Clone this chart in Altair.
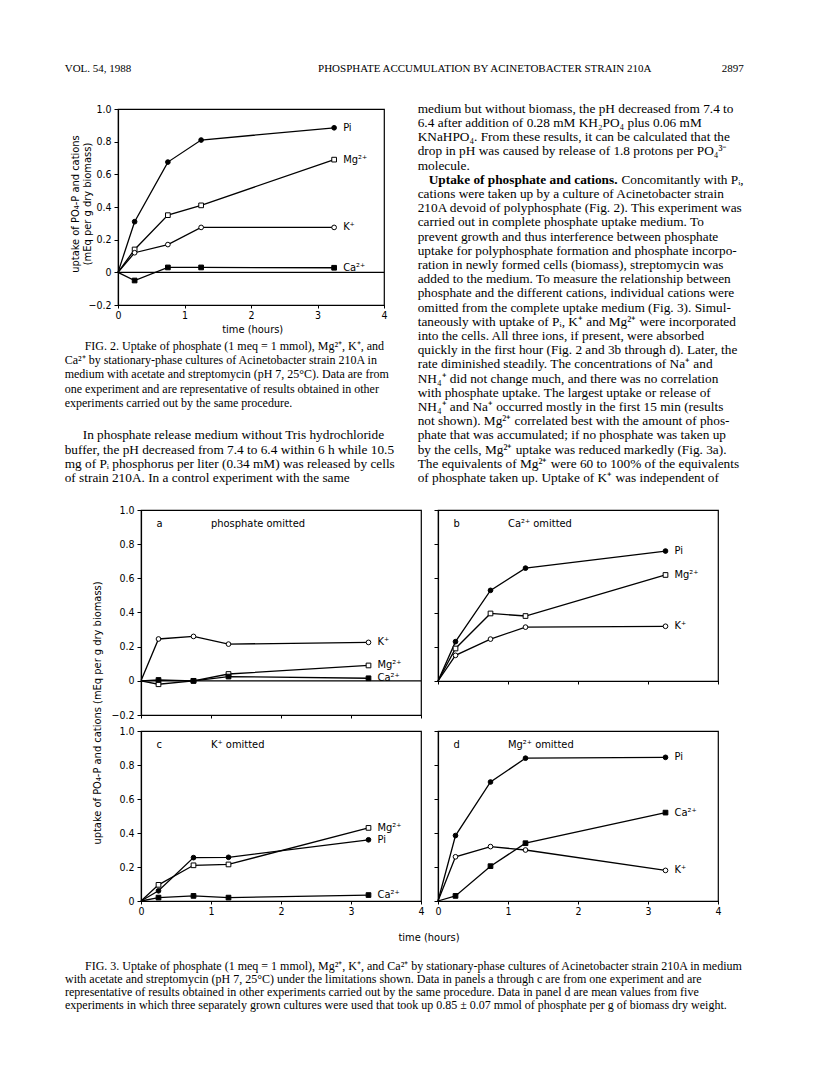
import altair as alt
import pandas as pd

# ---------------- data ----------------
TIME = [0, 0.25, 0.75, 1.25, 3.25]
SERIES = ["Pi", "Mg²⁺", "K⁺", "Ca²⁺"]
SHAPE_RANGE = ["circle", "square", "circle", "square"]
FILL_RANGE = ["black", "white", "white", "black"]
X_TICKS = [0, 1, 2, 3, 4]
Y_TICKS = [-0.2, 0, 0.2, 0.4, 0.6, 0.8, 1.0]

# Fig. 2
FIG2_PI = [0, 0.31, 0.675, 0.81, 0.885]
FIG2_MG = [0, 0.14, 0.35, 0.41, 0.69]
FIG2_K = [0, 0.12, 0.17, 0.275, 0.275]
FIG2_CA = [0, -0.05, 0.03, 0.03, 0.028]

# Fig. 3a phosphate omitted
A_K = [0, 0.245, 0.26, 0.215, 0.225]
A_MG = [0, -0.02, 0.0, 0.04, 0.09]
A_CA = [0, 0.005, 0.0, 0.025, 0.015]
# Fig. 3b Ca omitted
B_PI = [0, 0.23, 0.53, 0.66, 0.76]
B_MG = [0, 0.19, 0.395, 0.38, 0.62]
B_K = [0, 0.15, 0.245, 0.315, 0.32]
# Fig. 3c K omitted
C_PI = [0, 0.06, 0.255, 0.257, 0.36]
C_MG = [0, 0.095, 0.21, 0.215, 0.43]
C_CA = [0, 0.02, 0.03, 0.02, 0.035]
# Fig. 3d Mg omitted
D_PI = [0, 0.385, 0.70, 0.84, 0.845]
D_K = [0, 0.26, 0.32, 0.30, 0.18]
D_CA = [0, 0.03, 0.205, 0.34, 0.52]

PANEL_LETTERS = ["a", "b", "c", "d"]
PANEL_TITLES = ["phosphate omitted", "Ca²⁺ omitted", "K⁺ omitted", "Mg²⁺ omitted"]

# ---------------- page text ----------------
HEADER_LEFT = "VOL. 54, 1988"
HEADER_TITLE = "PHOSPHATE ACCUMULATION BY ACINETOBACTER STRAIN 210A"
HEADER_PAGE = "2897"

RIGHT_A = [
    "medium but without biomass, the pH decreased from 7.4 to",
    "6.4 after addition of 0.28 mM KH₂PO₄ plus 0.06 mM",
    "KNaHPO₄. From these results, it can be calculated that the",
    "drop in pH was caused by release of 1.8 protons per PO₄³⁻",
    "molecule.",
]
RIGHT_BOLD = "Uptake of phosphate and cations."
RIGHT_REST = "Concomitantly with Pᵢ,"
RIGHT_B = [
    "cations were taken up by a culture of Acinetobacter strain",
    "210A devoid of polyphosphate (Fig. 2). This experiment was",
    "carried out in complete phosphate uptake medium. To",
    "prevent growth and thus interference between phosphate",
    "uptake for polyphosphate formation and phosphate incorpo-",
    "ration in newly formed cells (biomass), streptomycin was",
    "added to the medium. To measure the relationship between",
    "phosphate and the different cations, individual cations were",
    "omitted from the complete uptake medium (Fig. 3). Simul-",
    "taneously with uptake of Pᵢ, K⁺ and Mg²⁺ were incorporated",
    "into the cells. All three ions, if present, were absorbed",
    "quickly in the first hour (Fig. 2 and 3b through d). Later, the",
    "rate diminished steadily. The concentrations of Na⁺ and",
    "NH₄⁺ did not change much, and there was no correlation",
    "with phosphate uptake. The largest uptake or release of",
    "NH₄⁺ and Na⁺ occurred mostly in the first 15 min (results",
    "not shown). Mg²⁺ correlated best with the amount of phos-",
    "phate that was accumulated; if no phosphate was taken up",
    "by the cells, Mg²⁺ uptake was reduced markedly (Fig. 3a).",
    "The equivalents of Mg²⁺ were 60 to 100% of the equivalents",
    "of phosphate taken up. Uptake of K⁺ was independent of",
]
FIG2_CAPTION_1 = "FIG. 2. Uptake of phosphate (1 meq = 1 mmol), Mg²⁺, K⁺, and"
FIG2_CAPTION = [
    "Ca²⁺ by stationary-phase cultures of Acinetobacter strain 210A in",
    "medium with acetate and streptomycin (pH 7, 25°C). Data are from",
    "one experiment and are representative of results obtained in other",
    "experiments carried out by the same procedure.",
]
LEFT_PARA_1 = "In phosphate release medium without Tris hydrochloride"
LEFT_PARA = [
    "buffer, the pH decreased from 7.4 to 6.4 within 6 h while 10.5",
    "mg of Pᵢ phosphorus per liter (0.34 mM) was released by cells",
    "of strain 210A. In a control experiment with the same",
]
FIG3_CAPTION_1 = ("FIG. 3. Uptake of phosphate (1 meq = 1 mmol), Mg²⁺, K⁺, and Ca²⁺ by "
                  "stationary-phase cultures of Acinetobacter strain 210A in medium")
FIG3_CAPTION = [
    "with acetate and streptomycin (pH 7, 25°C) under the limitations shown. Data in panels a through c are from one experiment and are",
    "representative of results obtained in other experiments carried out by the same procedure. Data in panel d are mean values from five",
    "experiments in which three separately grown cultures were used that took up 0.85 ± 0.07 mmol of phosphate per g of biomass dry weight.",
]
Y_TITLE_1 = "uptake of PO₄-P and cations"
Y_TITLE_2 = "(mEq per g dry biomass)"
Y_TITLE_FULL = "uptake of PO₄-P and cations (mEq per g dry biomass)"
X_TITLE = "time (hours)"

# ---------------- styling ----------------
SERIF = "Liberation Serif, Times New Roman, serif"
SANS = "DejaVu Sans Condensed, DejaVu Sans, sans-serif"
DUMMY = pd.DataFrame({"k": [0]})

O2 = (117.3, 108.0)   # page position of Fig. 2 plot area
OA = (140.0, 509.0)   # page position of panel a
OC = (140.0, 730.0)   # page position of panel c


def long_frame(series):
    rows = []
    for name, vals in series.items():
        for t, v in zip(TIME, vals):
            rows.append({"series": name, "t": t, "v": v})
    return pd.DataFrame(rows)


def page_text(lines, px, pcenter, origin, size, font=SERIF, weight="normal",
              align="left", lh=14.2, caps=False):
    top = pcenter - (0.46 if caps else 0.54) * size
    return alt.Chart(DUMMY).mark_text(
        align=align, baseline="top", font=font, fontSize=size, fontWeight=weight,
        lineHeight=lh, color="black",
    ).encode(x=alt.value(px - origin[0]), y=alt.value(top - origin[1]), text=alt.value(lines))


def rot_text(text, px, py, origin, size=10.5):
    return alt.Chart(DUMMY).mark_text(
        align="center", baseline="middle", font=SANS, fontSize=size, color="black", angle=270,
    ).encode(x=alt.value(px - origin[0]), y=alt.value(py - origin[1]), text=alt.value(text))


def flat_text(text, px, py, origin, size=10.5):
    return alt.Chart(DUMMY).mark_text(
        align="center", baseline="middle", font=SANS, fontSize=size, color="black",
    ).encode(x=alt.value(px - origin[0]), y=alt.value(py - origin[1]), text=alt.value(text))


def panel(series, width, height, ymin, show_x, show_y, zero_rule, letter=None, title=None, extra=()):
    df = long_frame(series)
    xs = alt.Scale(domain=[0, 4], nice=False, zero=False)
    ys = alt.Scale(domain=[ymin, 1.0], nice=False, zero=False)
    yvals = [v for v in Y_TICKS if v >= ymin - 1e-9]
    xax = alt.Axis(values=X_TICKS, labels=show_x, title=None, format="d", labelFlush=False,
                   labelPadding=2, tickSize=3)
    yax = alt.Axis(values=yvals, labels=show_y, title=None, labelFlush=False, labelPadding=3,
                   tickSize=4, labelExpr="datum.value == 0 ? '0' : format(datum.value, '.1f')")
    X = alt.X("t:Q", scale=xs, axis=xax)
    Y = alt.Y("v:Q", scale=ys, axis=yax)
    layers = []
    if zero_rule:
        layers.append(alt.Chart(pd.DataFrame({"v": [0.0]})).mark_rule(color="black", strokeWidth=1.1)
                      .encode(y=Y))
    base = alt.Chart(df)
    layers.append(base.mark_line(color="black", strokeWidth=1.3).encode(x=X, y=Y, detail="series:N"))
    layers.append(
        base.transform_filter("datum.t > 0").mark_point(
            filled=True, opacity=1, stroke="black", strokeWidth=1, size=22
        ).encode(
            x=X, y=Y,
            shape=alt.Shape("series:N", scale=alt.Scale(domain=SERIES, range=SHAPE_RANGE), legend=None),
            fill=alt.Fill("series:N", scale=alt.Scale(domain=SERIES, range=FILL_RANGE), legend=None),
        )
    )
    layers.append(
        base.transform_filter("datum.t == 3.25").mark_text(
            align="left", baseline="middle", dx=9, font=SANS, fontSize=11, color="black"
        ).encode(x=X, y=Y, text="series:N")
    )
    if letter is not None:
        ann = pd.DataFrame({"t": [0.22, 1.0], "v": [0.92, 0.92], "label": [letter, title]})
        layers.append(
            alt.Chart(ann).mark_text(align="left", baseline="middle", font=SANS, fontSize=11, color="black")
            .encode(x=X, y=Y, text="label:N")
        )
    layers.extend(extra)
    return alt.layer(*layers).properties(width=width, height=height)


# ---------------- Fig. 2 with the page text ----------------
LH = 14.2
BODY = 13.3
fig2_extra = [
    page_text(HEADER_LEFT, 64, 67, O2, 11, caps=True),
    page_text(HEADER_TITLE, 484, 67, O2, 11, caps=True, align="center"),
    page_text(HEADER_PAGE, 743, 67, O2, 11, caps=True, align="right"),
    page_text(RIGHT_A, 417, 108, O2, BODY, lh=LH),
    page_text(RIGHT_BOLD, 428, 108 + 5 * LH, O2, BODY, weight="bold"),
    page_text(RIGHT_REST, 743, 108 + 5 * LH, O2, BODY, align="right"),
    page_text(RIGHT_B, 417, 108 + 6 * LH, O2, BODY, lh=LH),
    page_text(FIG2_CAPTION_1, 84, 346.7, O2, 12),
    page_text(FIG2_CAPTION, 64, 346.7 + 14.1, O2, 12, lh=14.1),
    page_text(LEFT_PARA_1, 82, 108 + 23 * LH, O2, BODY),
    page_text(LEFT_PARA, 64, 108 + 24 * LH, O2, BODY, lh=LH),
    rot_text(Y_TITLE_1, 75, 203, O2, 11),
    rot_text(Y_TITLE_2, 87.5, 203, O2, 11),
    flat_text(X_TITLE, 252, 329, O2, 11),
]
fig2 = panel({"Pi": FIG2_PI, "Mg²⁺": FIG2_MG, "K⁺": FIG2_K, "Ca²⁺": FIG2_CA},
             266, 196, -0.2, True, True, True, extra=fig2_extra)

# ---------------- Fig. 3 ----------------
pa = panel({"Mg²⁺": A_MG, "K⁺": A_K, "Ca²⁺": A_CA}, 280, 205, -0.2, False, True, True,
           PANEL_LETTERS[0], PANEL_TITLES[0], extra=[rot_text(Y_TITLE_FULL, 97, 712, OA, 11)])
pb = panel({"Pi": B_PI, "Mg²⁺": B_MG, "K⁺": B_K}, 280, 171, 0.0, False, False, False,
           PANEL_LETTERS[1], PANEL_TITLES[1])
pc = panel({"Pi": C_PI, "Mg²⁺": C_MG, "Ca²⁺": C_CA}, 280, 170, 0.0, True, True, False,
           PANEL_LETTERS[2], PANEL_TITLES[2],
           extra=[flat_text(X_TITLE, 428, 937, OC, 11),
                  page_text(FIG3_CAPTION_1, 84, 966, OC, 12),
                  page_text(FIG3_CAPTION, 64, 966 + 13.1, OC, 12, lh=13.1)])
pd_ = panel({"Pi": D_PI, "K⁺": D_K, "Ca²⁺": D_CA}, 280, 170, 0.0, True, False, False,
            PANEL_LETTERS[3], PANEL_TITLES[3])

grid = alt.concat(pa, pb, pc, pd_, columns=2, spacing={"row": 16, "column": 17}, bounds="flush")

spacer = alt.Chart(DUMMY).mark_point(opacity=0, size=0).encode(
    x=alt.value(0), y=alt.value(0)
).properties(width=23, height=10, view=alt.ViewBackground(strokeOpacity=0))

block3 = alt.hconcat(spacer, grid, spacing=0, bounds="flush")

chart = alt.vconcat(fig2, block3, spacing=205, bounds="flush").properties(
    padding={"left": 56, "top": 54, "right": 5, "bottom": 5},
    background="white",
).configure_view(
    stroke="black", strokeWidth=1.2
).configure_axis(
    grid=False, domainColor="black", domainWidth=1.2, tickColor="black", tickWidth=1,
    labelColor="black", labelFont=SANS, labelFontSize=10.5,
)

chart.save("out.html", embed_options={"renderer": "svg", "actions": False})
